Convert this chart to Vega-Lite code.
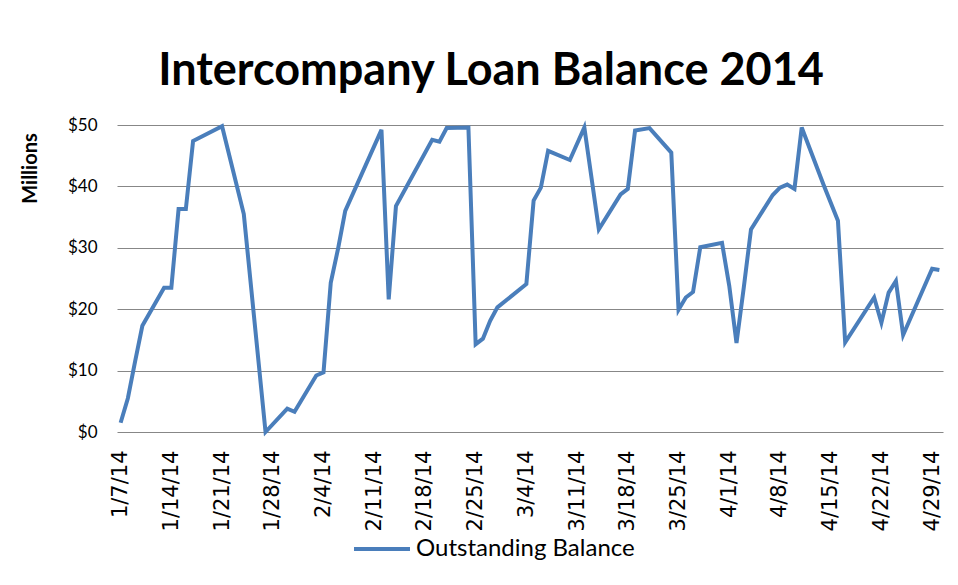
{
  "$schema": "https://vega.github.io/schema/vega-lite/v6.json",
  "width": 826,
  "height": 307,
  "autosize": {"type": "none"},
  "padding": {"left": 117, "top": 125, "right": 15, "bottom": 153},
  "background": "white",
  "title": {
    "text": "Intercompany Loan Balance 2014",
    "font": "Lato",
    "fontSize": 45,
    "fontWeight": "bold",
    "color": "#000000",
    "anchor": "middle",
    "dx": -39,
    "dy": 43,
    "baseline": "alphabetic",
    "offset": 29
  },
  "config": {"view": {"stroke": null}},
  "data": {
    "values": [
      {"date": "2014-01-07", "balance": 1.5},
      {"date": "2014-01-08", "balance": 5.5},
      {"date": "2014-01-09", "balance": 11.5},
      {"date": "2014-01-10", "balance": 17.3},
      {"date": "2014-01-13", "balance": 23.5},
      {"date": "2014-01-14", "balance": 23.5},
      {"date": "2014-01-15", "balance": 36.3},
      {"date": "2014-01-16", "balance": 36.3},
      {"date": "2014-01-17", "balance": 47.4},
      {"date": "2014-01-21", "balance": 49.8},
      {"date": "2014-01-24", "balance": 35.5},
      {"date": "2014-01-27", "balance": 0.0},
      {"date": "2014-01-30", "balance": 3.8},
      {"date": "2014-01-31", "balance": 3.3},
      {"date": "2014-02-03", "balance": 9.2},
      {"date": "2014-02-04", "balance": 9.7},
      {"date": "2014-02-05", "balance": 24.3},
      {"date": "2014-02-06", "balance": 29.8},
      {"date": "2014-02-07", "balance": 36.0},
      {"date": "2014-02-12", "balance": 49.2},
      {"date": "2014-02-13", "balance": 21.6},
      {"date": "2014-02-14", "balance": 36.8},
      {"date": "2014-02-19", "balance": 47.6},
      {"date": "2014-02-20", "balance": 47.3},
      {"date": "2014-02-21", "balance": 49.5},
      {"date": "2014-02-24", "balance": 49.6},
      {"date": "2014-02-25", "balance": 14.3},
      {"date": "2014-02-26", "balance": 15.2},
      {"date": "2014-02-27", "balance": 18.1},
      {"date": "2014-02-28", "balance": 20.3},
      {"date": "2014-03-04", "balance": 24.1},
      {"date": "2014-03-05", "balance": 37.7},
      {"date": "2014-03-06", "balance": 39.8},
      {"date": "2014-03-07", "balance": 45.8},
      {"date": "2014-03-10", "balance": 44.3},
      {"date": "2014-03-12", "balance": 49.6},
      {"date": "2014-03-14", "balance": 33.0},
      {"date": "2014-03-17", "balance": 38.7},
      {"date": "2014-03-18", "balance": 39.6},
      {"date": "2014-03-19", "balance": 49.1},
      {"date": "2014-03-21", "balance": 49.5},
      {"date": "2014-03-24", "balance": 45.5},
      {"date": "2014-03-25", "balance": 19.9},
      {"date": "2014-03-26", "balance": 21.9},
      {"date": "2014-03-27", "balance": 22.8},
      {"date": "2014-03-28", "balance": 30.1},
      {"date": "2014-03-31", "balance": 30.8},
      {"date": "2014-04-01", "balance": 23.8},
      {"date": "2014-04-02", "balance": 14.5},
      {"date": "2014-04-03", "balance": 23.5},
      {"date": "2014-04-04", "balance": 33.0},
      {"date": "2014-04-07", "balance": 38.6},
      {"date": "2014-04-08", "balance": 39.8},
      {"date": "2014-04-09", "balance": 40.3},
      {"date": "2014-04-10", "balance": 39.6},
      {"date": "2014-04-11", "balance": 49.6},
      {"date": "2014-04-14", "balance": 40.3},
      {"date": "2014-04-16", "balance": 34.4},
      {"date": "2014-04-17", "balance": 14.6},
      {"date": "2014-04-21", "balance": 21.9},
      {"date": "2014-04-22", "balance": 17.8},
      {"date": "2014-04-23", "balance": 22.7},
      {"date": "2014-04-24", "balance": 24.6},
      {"date": "2014-04-25", "balance": 15.8},
      {"date": "2014-04-29", "balance": 26.6},
      {"date": "2014-04-30", "balance": 26.4}
    ]
  },
  "mark": {"type": "line", "strokeWidth": 4, "color": "#4A7EBB"},
  "encoding": {
    "x": {
      "field": "date",
      "type": "temporal",
      "scale": {
        "type": "utc",
        "domain": [
          {"year": 2014, "month": 1, "date": 6, "hours": 12, "utc": true},
          {"year": 2014, "month": 4, "date": 30, "hours": 12, "utc": true}
        ]
      },
      "axis": {
        "values": [
          {"year": 2014, "month": 1, "date": 7, "utc": true},
          {"year": 2014, "month": 1, "date": 14, "utc": true},
          {"year": 2014, "month": 1, "date": 21, "utc": true},
          {"year": 2014, "month": 1, "date": 28, "utc": true},
          {"year": 2014, "month": 2, "date": 4, "utc": true},
          {"year": 2014, "month": 2, "date": 11, "utc": true},
          {"year": 2014, "month": 2, "date": 18, "utc": true},
          {"year": 2014, "month": 2, "date": 25, "utc": true},
          {"year": 2014, "month": 3, "date": 4, "utc": true},
          {"year": 2014, "month": 3, "date": 11, "utc": true},
          {"year": 2014, "month": 3, "date": 18, "utc": true},
          {"year": 2014, "month": 3, "date": 25, "utc": true},
          {"year": 2014, "month": 4, "date": 1, "utc": true},
          {"year": 2014, "month": 4, "date": 8, "utc": true},
          {"year": 2014, "month": 4, "date": 15, "utc": true},
          {"year": 2014, "month": 4, "date": 22, "utc": true},
          {"year": 2014, "month": 4, "date": 29, "utc": true}
        ],
        "labelExpr": "utcFormat(datum.value, '%-m/%-d/%y')",
        "labelAngle": 270,
        "labelAlign": "right",
        "labelBaseline": "middle",
        "labelFont": "DejaVu Sans",
        "labelFontSize": 21,
        "labelColor": "#000000",
        "labelPadding": 18,
        "labelOverlap": false,
        "labelFlush": false,
        "labelBound": false,
        "ticks": false,
        "domain": false,
        "grid": false,
        "title": null
      }
    },
    "y": {
      "field": "balance",
      "type": "quantitative",
      "scale": {"domain": [0, 50], "nice": false, "zero": true},
      "axis": {
        "values": [0, 10, 20, 30, 40, 50],
        "labelExpr": "'$' + datum.value",
        "labelFont": "Lato",
        "labelFontSize": 17,
        "labelColor": "#000000",
        "labelPadding": 20,
        "ticks": false,
        "domain": false,
        "grid": true,
        "gridColor": "#878787",
        "gridWidth": 1,
        "title": "Millions",
        "titleFont": "Lato",
        "titleFontSize": 20,
        "titleFontWeight": "bold",
        "titleColor": "#000000",
        "titleX": -87,
        "titleY": 43,
        "titleAngle": 270,
        "titleAlign": "center",
        "titleBaseline": "middle"
      }
    },
    "color": {
      "datum": "Outstanding Balance",
      "scale": {"range": ["#4A7EBB"]},
      "legend": {
        "orient": "none",
        "legendX": 235,
        "legendY": 394,
        "title": null,
        "padding": 0,
        "symbolType": "stroke",
        "symbolSize": 3136,
        "symbolStrokeWidth": 4,
        "labelFont": "Lato",
        "labelFontSize": 24,
        "labelLimit": 400,
        "labelColor": "#000000",
        "labelOffset": 4
      }
    }
  }
}
